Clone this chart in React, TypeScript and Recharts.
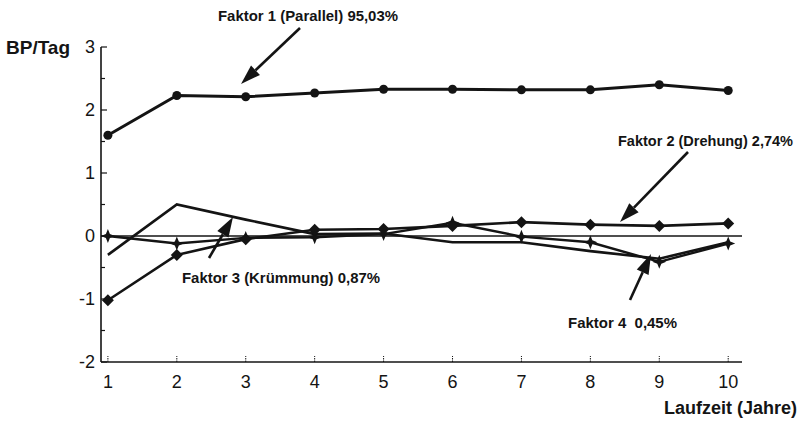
import React from "react";
import { LineChart, Line, XAxis, YAxis, ReferenceLine } from "recharts";

const years = [1, 2, 3, 4, 5, 6, 7, 8, 9, 10];
const faktor1 = [1.6, 2.23, 2.21, 2.27, 2.33, 2.33, 2.32, 2.32, 2.4, 2.31];
const faktor2 = [-1.02, -0.3, -0.05, 0.1, 0.11, 0.16, 0.22, 0.18, 0.16, 0.2];
const faktor3 = [-0.3, 0.5, 0.26, 0.03, 0.04, -0.1, -0.1, -0.24, -0.36, -0.1];
const faktor4 = [0, -0.12, -0.03, -0.02, 0.03, 0.21, -0.01, -0.1, -0.41, -0.12];
const yTicks = [-2, -1.5, -1, -0.5, 0, 0.5, 1, 1.5, 2, 2.5, 3];
const xTicks = [1, 2, 3, 4, 5, 6, 7, 8, 9, 10];

const data = years.map((y, i) => ({
  year: y,
  f1: faktor1[i],
  f2: faktor2[i],
  f3: faktor3[i],
  f4: faktor4[i],
}));

const FONT = "'Liberation Sans', Arial, Helvetica, sans-serif";
const INK = "#141414";

const CircleDot = (p: any) => (
  <circle key={`c${p.index}`} cx={p.cx} cy={p.cy} r={4.5} fill={INK} />
);
const DiamondDot = (p: any) => {
  const { cx, cy } = p;
  const s = 6;
  return (
    <polygon
      key={`d${p.index}`}
      points={`${cx},${cy - s} ${cx + s},${cy} ${cx},${cy + s} ${cx - s},${cy}`}
      fill={INK}
    />
  );
};
const StarDot = (p: any) => {
  const { cx, cy } = p;
  const o = 7;
  const n = 2;
  const pts = [
    [cx, cy - o],
    [cx + n, cy - n],
    [cx + o, cy],
    [cx + n, cy + n],
    [cx, cy + o],
    [cx - n, cy + n],
    [cx - o, cy],
    [cx - n, cy - n],
  ]
    .map((q) => q.join(","))
    .join(" ");
  return <polygon key={`s${p.index}`} points={pts} fill={INK} />;
};

const YTick = (p: any) => {
  const { x, y, payload } = p;
  const v = payload.value;
  const major = Number.isInteger(v);
  return (
    <g>
      <line x1={x} x2={x + (major ? 6 : 4)} y1={y} y2={y} stroke={INK} strokeWidth={1.2} />
      {major && (
        <text
          x={x - 6}
          y={y + 6}
          textAnchor="end"
          fontFamily={FONT}
          fontSize={18}
          fill={INK}
        >
          {v}
        </text>
      )}
    </g>
  );
};

const XTick = (p: any) => {
  const { x, y, payload } = p;
  return (
    <g>
      <line x1={x} x2={x} y1={y} y2={y - 6} stroke={INK} strokeWidth={1} strokeDasharray="1.5 1" />
      <text x={x} y={y + 26} textAnchor="middle" fontFamily={FONT} fontSize={18} fill={INK}>
        {payload.value}
      </text>
    </g>
  );
};

const Arrow = ({ x1, y1, x2, y2 }: { x1: number; y1: number; x2: number; y2: number }) => {
  const dx = x2 - x1;
  const dy = y2 - y1;
  const len = Math.sqrt(dx * dx + dy * dy);
  const ux = dx / len;
  const uy = dy / len;
  const hl = 20;
  const hw = 6.5;
  const bx = x2 - ux * hl;
  const by = y2 - uy * hl;
  const px = -uy;
  const py = ux;
  return (
    <g>
      <line x1={x1} y1={y1} x2={bx} y2={by} stroke={INK} strokeWidth={2.6} />
      <polygon
        points={`${x2},${y2} ${bx + px * hw},${by + py * hw} ${bx - px * hw},${by - py * hw}`}
        fill={INK}
      />
    </g>
  );
};

const labelStyle = { fontFamily: FONT, fontWeight: 700 as const, fontSize: 15, fill: INK };

export default function App() {
  return (
    <div style={{ position: "absolute", left: 0, top: 0, width: 803, height: 423, background: "#fff" }}>
      <LineChart
        width={803}
        height={423}
        data={data}
        margin={{ top: 47, right: 61, bottom: 0, left: 0 }}
      >
        <XAxis
          dataKey="year"
          type="number"
          domain={[0.9, 10.2]}
          ticks={xTicks}
          height={61}
          tickLine={false}
          tickSize={0}
          tickMargin={0}
          axisLine={{ stroke: INK, strokeWidth: 1.6 }}
          tick={XTick}
          interval={0}
        />
        <YAxis
          type="number"
          domain={[-2, 3]}
          ticks={yTicks}
          width={101}
          tickLine={false}
          tickSize={0}
          tickMargin={0}
          axisLine={{ stroke: INK, strokeWidth: 1.6 }}
          tick={YTick}
          interval={0}
        />
        <ReferenceLine y={0} stroke={INK} strokeWidth={1.3} />
        <Line
          dataKey="f3"
          stroke={INK}
          strokeWidth={2.6}
          dot={false}
          isAnimationActive={false}
        />
        <Line
          dataKey="f4"
          stroke={INK}
          strokeWidth={2.4}
          dot={StarDot}
          isAnimationActive={false}
        />
        <Line
          dataKey="f2"
          stroke={INK}
          strokeWidth={2.6}
          dot={DiamondDot}
          isAnimationActive={false}
        />
        <Line
          dataKey="f1"
          stroke={INK}
          strokeWidth={3}
          dot={CircleDot}
          isAnimationActive={false}
        />
      </LineChart>
      <svg
        width={803}
        height={423}
        style={{ position: "absolute", left: 0, top: 0, pointerEvents: "none" }}
      >
        <text x={6} y={54} fontFamily={FONT} fontWeight={700} fontSize={19} fill={INK}>
          BP/Tag
        </text>
        <text x={797} y={414} textAnchor="end" fontFamily={FONT} fontWeight={700} fontSize={18} fill={INK}>
          Laufzeit (Jahre)
        </text>
        <text x={218} y={21} {...labelStyle} textLength={180} lengthAdjust="spacingAndGlyphs">
          Faktor 1 (Parallel) 95,03%
        </text>
        <Arrow x1={300} y1={28} x2={241} y2={84} />
        <text x={618} y={146} {...labelStyle} textLength={175} lengthAdjust="spacingAndGlyphs">
          Faktor 2 (Drehung) 2,74%
        </text>
        <Arrow x1={688} y1={152} x2={620} y2={222} />
        <text x={182} y={283} {...labelStyle} textLength={198} lengthAdjust="spacingAndGlyphs">
          Faktor 3 (Krümmung) 0,87%
        </text>
        <Arrow x1={209} y1={258} x2={233} y2={217} />
        <text
          x={568}
          y={328}
          {...labelStyle}
          textLength={109}
          lengthAdjust="spacingAndGlyphs"
          style={{ whiteSpace: "pre" }}
        >
          Faktor 4  0,45%
        </text>
        <Arrow x1={630} y1={300} x2={651} y2={254} />
      </svg>
    </div>
  );
}
